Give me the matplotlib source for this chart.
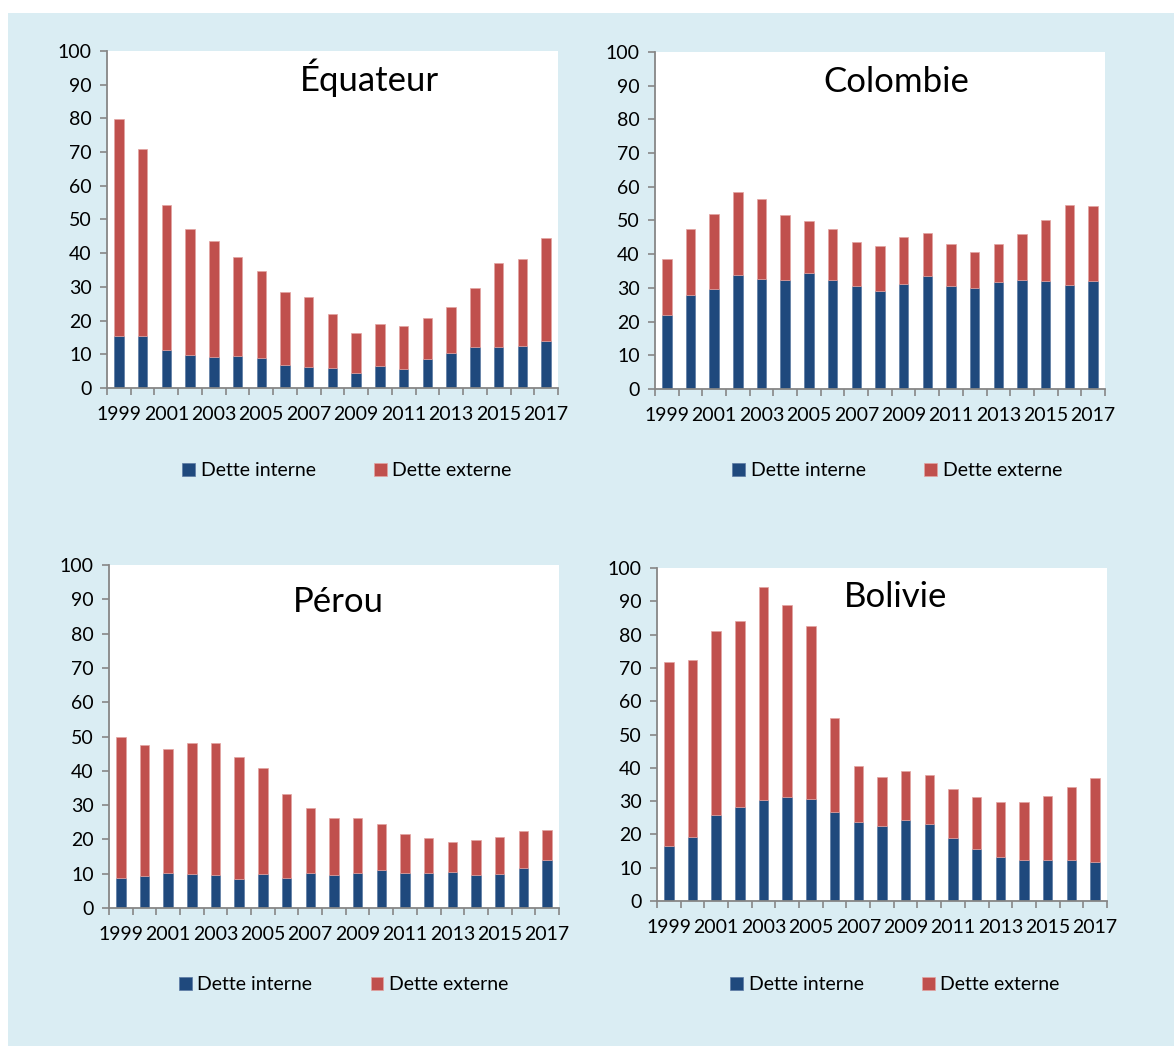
import matplotlib as mpl
import matplotlib.pyplot as plt
from matplotlib.patches import Rectangle

mpl.rcParams['font.family'] = ['Lato', 'DejaVu Sans']
mpl.rcParams['font.size'] = 14

years = list(range(1999, 2018))

equateur_interne = [15.3, 15.3, 11.4, 9.7, 9.2, 9.4, 8.9, 6.8, 6.2, 5.8,
                    4.4, 6.5, 5.6, 8.6, 10.3, 12.2, 12.3, 12.5, 14.0]
equateur_total = [79.8, 71.0, 54.4, 47.3, 43.5, 38.9, 34.7, 28.5, 27.1, 22.0,
                  16.2, 19.0, 18.3, 20.9, 24.0, 29.6, 37.0, 38.2, 44.5]

colombie_interne = [22.1, 28.0, 29.8, 33.7, 32.5, 32.2, 34.3, 32.2, 30.5, 29.2,
                    31.3, 33.5, 30.7, 30.0, 31.8, 32.2, 31.9, 30.9, 32.1]
colombie_total = [38.5, 47.5, 51.8, 58.5, 56.4, 51.5, 49.9, 47.5, 43.7, 42.5,
                  45.0, 46.2, 42.9, 40.7, 42.9, 45.9, 50.0, 54.7, 54.4]

perou_interne = [8.8, 9.2, 10.2, 9.9, 9.6, 8.6, 9.8, 8.8, 10.3, 9.5,
                 10.2, 11.0, 10.3, 10.3, 10.4, 9.5, 9.8, 11.8, 13.9]
perou_total = [49.8, 47.5, 46.4, 48.0, 48.1, 43.9, 40.8, 33.2, 29.1, 26.2,
               26.3, 24.4, 21.7, 20.3, 19.3, 19.7, 20.7, 22.4, 22.7]

bolivie_interne = [16.5, 19.3, 25.9, 28.3, 30.4, 31.3, 30.7, 26.8, 23.8, 22.6,
                   24.3, 23.2, 19.0, 15.6, 13.2, 12.3, 12.2, 12.4, 11.8]
bolivie_total = [71.8, 72.5, 81.1, 84.2, 94.3, 89.0, 82.5, 55.1, 40.6, 37.1,
                 39.1, 37.7, 33.5, 31.1, 29.6, 29.8, 31.5, 34.1, 36.9]

blue = '#1F497D'
red = '#C0504D'
axis_grey = '#868686'
panel_bg = '#DAEDF3'

fig = plt.figure(figsize=(11.74, 10.46), dpi=100)
fig.patch.set_facecolor('white')
fig.patches.append(Rectangle((8 / 1174, 0), 1, 1 - 13 / 1046, transform=fig.transFigure,
                             facecolor=panel_bg, edgecolor='none', zorder=-10))

# (rect, title, title xy, legend xy, interne, total)
panels = [
    ([0.0911, 0.6291, 0.3842, 0.3222], 'Équateur', (0.583, 0.92), (0.532, -0.246),
     equateur_interne, equateur_total),
    ([0.5579, 0.6281, 0.3833, 0.3222], 'Colombie', (0.536, 0.911), (0.538, -0.243),
     colombie_interne, colombie_total),
    ([0.0928, 0.1319, 0.3833, 0.3279], 'Pérou', (0.509, 0.892), (0.522, -0.224),
     perou_interne, perou_total),
    ([0.5596, 0.1386, 0.3833, 0.3184], 'Bolivie', (0.531, 0.913), (0.529, -0.252),
     bolivie_interne, bolivie_total),
]

n = len(years)
pos = list(range(n))

for rect, title, txy, lxy, interne, total in panels:
    ax = fig.add_axes(rect)
    ax.set_facecolor('white')
    externe = [t - i for t, i in zip(total, interne)]
    ax.bar(pos, interne, width=0.4, color=blue, edgecolor='#5b7aa3', linewidth=0.5,
           label='Dette interne')
    ax.bar(pos, externe, bottom=interne, width=0.4, color=red, edgecolor='#e3a3a1',
           linewidth=0.5, label='Dette externe')

    ax.set_xlim(-0.5, n - 0.5)
    ax.set_ylim(0, 100)
    ax.set_yticks(range(0, 101, 10))

    # tick marks between categories, labels on every other year
    ax.set_xticks([p - 0.5 for p in pos] + [n - 0.5])
    ax.set_xticklabels([])
    ax.set_xticks(pos[::2], minor=True)
    ax.set_xticklabels([str(y) for y in years[::2]], minor=True)
    ax.tick_params(axis='x', which='major', length=5, width=1.2, color=axis_grey)
    ax.tick_params(axis='x', which='minor', length=0, pad=13)
    ax.tick_params(axis='y', length=5, width=1.2, color=axis_grey, pad=6)

    for side in ('top', 'right'):
        ax.spines[side].set_visible(False)
    for side in ('left', 'bottom'):
        ax.spines[side].set_color(axis_grey)
        ax.spines[side].set_linewidth(1.3)

    ax.text(txy[0], txy[1], title, transform=ax.transAxes, ha='center', va='center',
            fontsize=25)
    ax.legend(loc='center', bbox_to_anchor=lxy, ncol=2, frameon=False,
              handlelength=0.65, handleheight=0.65, handletextpad=0.3,
              columnspacing=3.0, fontsize=14)

fig.savefig('out.png', dpi=100, facecolor=fig.get_facecolor())
